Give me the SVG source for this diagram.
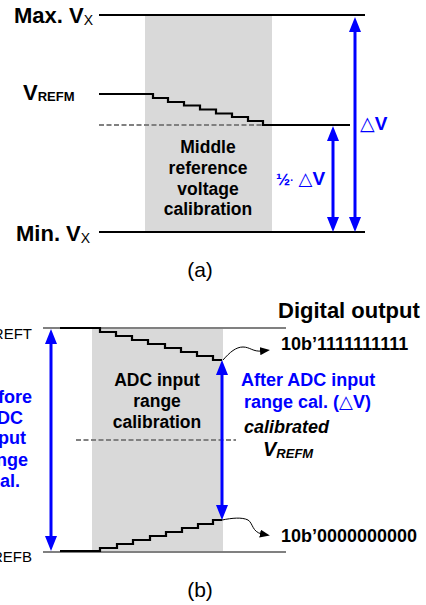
<svg xmlns="http://www.w3.org/2000/svg" width="426" height="605" viewBox="0 0 426 605">
<style>
text{font-family:"Liberation Sans",Arial,"DejaVu Sans",sans-serif;}
.b{font-weight:bold;}
.blk{fill:none;stroke:#000;stroke-width:2.2;}
.gry{fill:none;stroke:#808080;stroke-width:2;}
.dash{fill:none;stroke:#808080;stroke-width:2.2;stroke-dasharray:5 2.5;}
.blue{stroke:#0000ff;stroke-width:3;fill:none;marker-start:url(#ah);marker-end:url(#ah);}
.thin{fill:none;stroke:#000;stroke-width:1;marker-end:url(#sa);}
.bt{fill:#0000ff;}
.shade{fill:#d9d9d9;}
</style>
<defs>
<marker id="ah" markerUnits="userSpaceOnUse" markerWidth="15" markerHeight="12" refX="7" refY="6" orient="auto-start-reverse">
<path d="M0,0 L15,6 L0,12 z" fill="#0000ff"/>
</marker>
<marker id="sa" markerUnits="userSpaceOnUse" markerWidth="10" markerHeight="8" refX="2" refY="4" orient="auto">
<path d="M0,0 L10,4 L0,8 z" fill="#000"/>
</marker>
</defs>

<!-- (a) -->
<g id="a-shade"><rect class="shade" x="145" y="15" width="127" height="217"/></g>
<g id="a-lines">
<line class="blk" x1="99" y1="15" x2="365" y2="15"/>
<line class="blk" x1="99" y1="232" x2="365" y2="232"/>
<line class="dash" x1="99" y1="125" x2="263" y2="125"/>
<path class="blk" d="M99,94 H153 V98 H168 V102 H184 V105.5 H200 V109.5 H216 V113.5 H232 V117 H248 V121 H263 V125 H350"/>
</g>
<g id="a-labels">
<text class="b" x="14" y="23" font-size="22">Max. V<tspan font-size="14" font-weight="normal" dy="2">X</tspan></text>
<text class="b" x="23" y="100" font-size="22">V<tspan font-size="13" dy="1">REFM</tspan></text>
<text class="b" x="16" y="241" font-size="22">Min. V<tspan font-size="14" font-weight="normal" dy="2">X</tspan></text>
<text class="b" font-size="17.5" text-anchor="middle"><tspan x="208" y="153">Middle</tspan><tspan x="208" y="174">reference</tspan><tspan x="208" y="194.5">voltage</tspan><tspan x="208" y="215">calibration</tspan></text>
<text x="200" y="277" font-size="21" text-anchor="middle">(a)</text>
</g>
<g id="a-connectors">
<line class="blue" x1="355" y1="25" x2="355" y2="224"/>
<line class="blue" x1="333" y1="134" x2="333" y2="224"/>
</g>
<g id="a-arrow-labels">
<text class="bt b" x="360" y="130" font-size="19"><tspan font-weight="normal">△</tspan>V</text>
<text class="bt b" x="276" y="185" font-size="17">½<tspan font-size="10" dy="-1">·</tspan><tspan dy="1" font-weight="normal" font-size="18"> △</tspan><tspan font-size="19">V</tspan></text>
</g>

<!-- (b) -->
<g id="b-shade"><rect class="shade" x="92" y="328" width="131" height="224"/></g>
<g id="b-lines">
<line class="gry" x1="43" y1="328" x2="286" y2="328"/>
<line class="gry" x1="43" y1="552" x2="286" y2="552"/>
<line class="dash" x1="76" y1="440" x2="236" y2="440"/>
<path class="blk" d="M60,328 H100 V332 H116 V336 H132 V340 H148 V344 H165 V348 H181 V352 H197 V356 H213 V360 H222"/>
<path class="blk" d="M60,551 H100 V548 H117 V544 H133 V540 H150 V536 H166 V532 H182 V528 H198 V524 H213 V520 H222"/>
</g>
<g id="b-labels">
<text x="32" y="339" font-size="15" text-anchor="end">REFT</text>
<text x="32" y="562" font-size="15" text-anchor="end">REFB</text>
<text class="b" x="278" y="318" font-size="22">Digital output</text>
<text class="b" x="281" y="350" font-size="18">10b’1111111111</text>
<text class="b" x="281" y="542" font-size="18">10b’0000000000</text>
<text class="b" font-size="17.5" text-anchor="middle"><tspan x="157" y="386">ADC input</tspan><tspan x="157" y="407">range</tspan><tspan x="157" y="428">calibration</tspan></text>
<text class="bt b" font-size="18"><tspan x="241" y="386">After ADC input</tspan><tspan x="244" y="408">range cal. (<tspan font-weight="normal">△</tspan>V)</tspan></text>
<text class="bt b" font-size="18" text-anchor="end"><tspan x="32" y="403">fore</tspan><tspan x="23" y="424">DC</tspan><tspan x="26" y="444">put</tspan><tspan x="28" y="466">nge</tspan><tspan x="20" y="487">al.</tspan></text>
<text class="b" x="244" y="433" font-size="18" font-style="italic">calibrated</text>
<text class="b" x="263" y="456" font-size="20" font-style="italic">V<tspan font-size="13" dy="2">REFM</tspan></text>
<text x="200" y="597" font-size="21" text-anchor="middle">(b)</text>
</g>
<g id="b-connectors">
<line class="blue" x1="51" y1="337" x2="51" y2="543"/>
<line class="blue" x1="222" y1="368" x2="222" y2="512"/>
<path class="thin" d="M223,360 C230,352 236,347 243,347 C250,347 253,352 262,351"/>
<path class="thin" d="M222,520 C232,518 242,517 248,520 C253,523 252,532 262,534"/>
</g>
</svg>
